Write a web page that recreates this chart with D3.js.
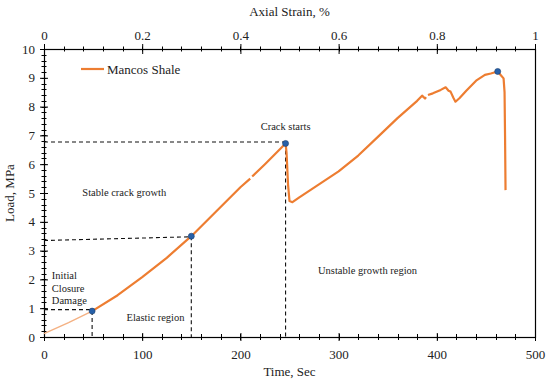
<!DOCTYPE html>
<html>
<head>
<meta charset="utf-8">
<script src="https://cdn.jsdelivr.net/npm/d3@7"></script>
<style>
body { margin: 0; background: #fff; }
text { font-family: "Liberation Serif", "Times New Roman", serif; fill: #222; }
</style>
</head>
<body>
<script>
//load curve, time (sec) and load (MPa); null = gap in record
var timeData = [0, 25, 49, 75, 100, 125, 150, 175, 200, 210, null, 212, 225, 246, 247, 248.5, 250, 253, 260, 280, 300, 320, 340, 360, 380, 385, 388, 389, null, 391, 396, 404, 409, 412, 414, 417, 419, 423, 430, 440, 449, 455, 462, 465, 468, 469, 469.5, 470];
var loadData = [0.12, 0.5, 0.9, 1.45, 2.08, 2.75, 3.5, 4.35, 5.2, 5.5, null, 5.57, 6.0, 6.72, 6.4, 5.3, 4.72, 4.68, 4.85, 5.3, 5.75, 6.3, 6.95, 7.6, 8.2, 8.38, 8.28, 8.33, null, 8.4, 8.46, 8.58, 8.67, 8.55, 8.52, 8.3, 8.17, 8.29, 8.55, 8.9, 9.1, 9.15, 9.22, 9.1, 8.98, 8.5, 7.0, 5.1];

//marked points
var markTime = [49, 150, 246, 462];
var markLoad = [0.9, 3.5, 6.72, 9.22];

//dashed guide lines [x1, y1, x2, y2]
var guides = [
	[0, 0.95, 49, 0.95], [49, 0.9, 49, 0],
	[0, 3.35, 150, 3.48], [150, 3.5, 150, 0],
	[0, 6.77, 246, 6.77], [246, 6.72, 246, 0]
];

//region labels
var notes = [
	{t: 246, v: 7.2, text: "Crack starts", anchor: "middle"},
	{t: 39, v: 4.9, text: "Stable crack growth", anchor: "start"},
	{t: 8, v: 2.0, text: "Initial", anchor: "start"},
	{t: 8, v: 1.55, text: "Closure", anchor: "start"},
	{t: 8, v: 1.15, text: "Damage", anchor: "start"},
	{t: 84, v: 0.55, text: "Elastic region", anchor: "start"},
	{t: 279, v: 2.2, text: "Unstable growth region", anchor: "start"}
];

var xTicks = [0, 100, 200, 300, 400, 500];
var strainTicks = [0, 0.2, 0.4, 0.6, 0.8, 1];
var yTicks = [0, 1, 2, 3, 4, 5, 6, 7, 8, 9, 10];

var width = 550, height = 382;
var padL = 44, padR = 535, padT = 49, padB = 337;

var svg = d3.select("body").append("svg")
	.attr("width", width)
	.attr("height", height);

var x = d3.scaleLinear().domain([0, 500]).range([padL, padR]);
var xs = d3.scaleLinear().domain([0, 1]).range([padL, padR]);
var y = d3.scaleLinear().domain([0, 10]).range([padB, padT]);

//minor ticks
function minor(g, scale, vals, dir, len) {
	g.selectAll("line.minor").data(vals).enter().append("line")
		.attr("class", "minor")
		.attr("stroke", "#000").attr("stroke-width", 1)
		.each(function(d){
			var s = d3.select(this), p = Math.round(scale(d)) + 0.5;
			if (dir == "h") s.attr("x1", p).attr("x2", p).attr("y1", -len).attr("y2", len);
			else s.attr("y1", p).attr("y2", p).attr("x1", -len).attr("x2", len);
		});
}

//bottom axis
var gx = svg.append("g").attr("transform", "translate(0," + padB + ")");
gx.call(d3.axisBottom(x).tickValues(xTicks).tickSize(4).tickPadding(9));
minor(gx, x, d3.range(0, 501, 20), "h", 3);
gx.selectAll(".tick line").attr("y1", -4);

//top axis
var gt = svg.append("g").attr("transform", "translate(0," + padT + ")");
gt.call(d3.axisTop(xs).tickValues(strainTicks).tickFormat(d3.format("~g")).tickSize(5).tickPadding(4));
minor(gt, xs, d3.range(0, 1.001, 0.04), "h", 2.5);
gt.selectAll(".tick line").attr("y1", 5);

//left axis
var gy = svg.append("g").attr("transform", "translate(" + padL + ",0)");
gy.call(d3.axisLeft(y).tickValues(yTicks).tickSize(4).tickPadding(5));
minor(gy, y, d3.range(0, 10.01, 0.2), "v", 2.5);
gy.selectAll(".tick line").attr("x1", 4);

svg.selectAll(".domain").remove();
svg.selectAll(".tick text").style("font-size", "13px").style("font-family", "Liberation Serif");

//frame
svg.append("rect")
	.attr("x", padL + 0.5).attr("y", padT + 0.5)
	.attr("width", padR - padL).attr("height", padB - padT)
	.attr("fill", "none").attr("stroke", "#000").attr("stroke-width", 1.2);

//axis titles
svg.append("text").attr("x", (padL + padR) / 2).attr("y", 376)
	.attr("text-anchor", "middle").style("font-size", "13px").text("Time, Sec");
svg.append("text").attr("x", (padL + padR) / 2).attr("y", 16)
	.attr("text-anchor", "middle").style("font-size", "13px").text("Axial Strain, %");
svg.append("text").attr("transform", "translate(14," + ((padT + padB) / 2) + ") rotate(-90)")
	.attr("text-anchor", "middle").style("font-size", "13px").text("Load, MPa");

//guides
svg.selectAll(".guide").data(guides).enter().append("line")
	.attr("class", "guide")
	.attr("x1", function(d){ return x(d[0]); })
	.attr("y1", function(d){ return y(d[1]); })
	.attr("x2", function(d){ return x(d[2]); })
	.attr("y2", function(d){ return y(d[3]); })
	.attr("stroke", "#111").attr("stroke-width", 1.1)
	.attr("stroke-dasharray", "4,3");

//curve
var pts = timeData.map(function(t, i){ return [t, loadData[i]]; });
var line = d3.line()
	.defined(function(d){ return d[0] != null; })
	.x(function(d){ return x(d[0]); })
	.y(function(d){ return y(d[1]); });

svg.append("path").datum(pts.slice(0, 3))
	.attr("d", line).attr("fill", "none")
	.attr("stroke", "#f4b183").attr("stroke-width", 1.4);

svg.append("path").datum(pts.slice(2))
	.attr("d", line).attr("fill", "none")
	.attr("stroke", "#ed7d31").attr("stroke-width", 2.2)
	.attr("stroke-linejoin", "round");

//markers
svg.selectAll(".mark").data(markTime).enter().append("circle")
	.attr("class", "mark")
	.attr("cx", function(d){ return x(d); })
	.attr("cy", function(d, i){ return y(markLoad[i]); })
	.attr("r", 3)
	.attr("fill", "#2760a8").attr("stroke", "#1b3f70").attr("stroke-width", 0.6);

//notes
svg.selectAll(".note").data(notes).enter().append("text")
	.attr("class", "note")
	.attr("x", function(d){ return x(d.t); })
	.attr("y", function(d){ return y(d.v); })
	.attr("text-anchor", function(d){ return d.anchor; })
	.style("font-size", "10.5px")
	.text(function(d){ return d.text; });

//legend
svg.append("line").attr("x1", 81).attr("x2", 104).attr("y1", 69).attr("y2", 69)
	.attr("stroke", "#ed7d31").attr("stroke-width", 2.2);
svg.append("text").attr("x", 107).attr("y", 73.5).style("font-size", "13px").text("Mancos Shale");
</script>
</body>
</html>
